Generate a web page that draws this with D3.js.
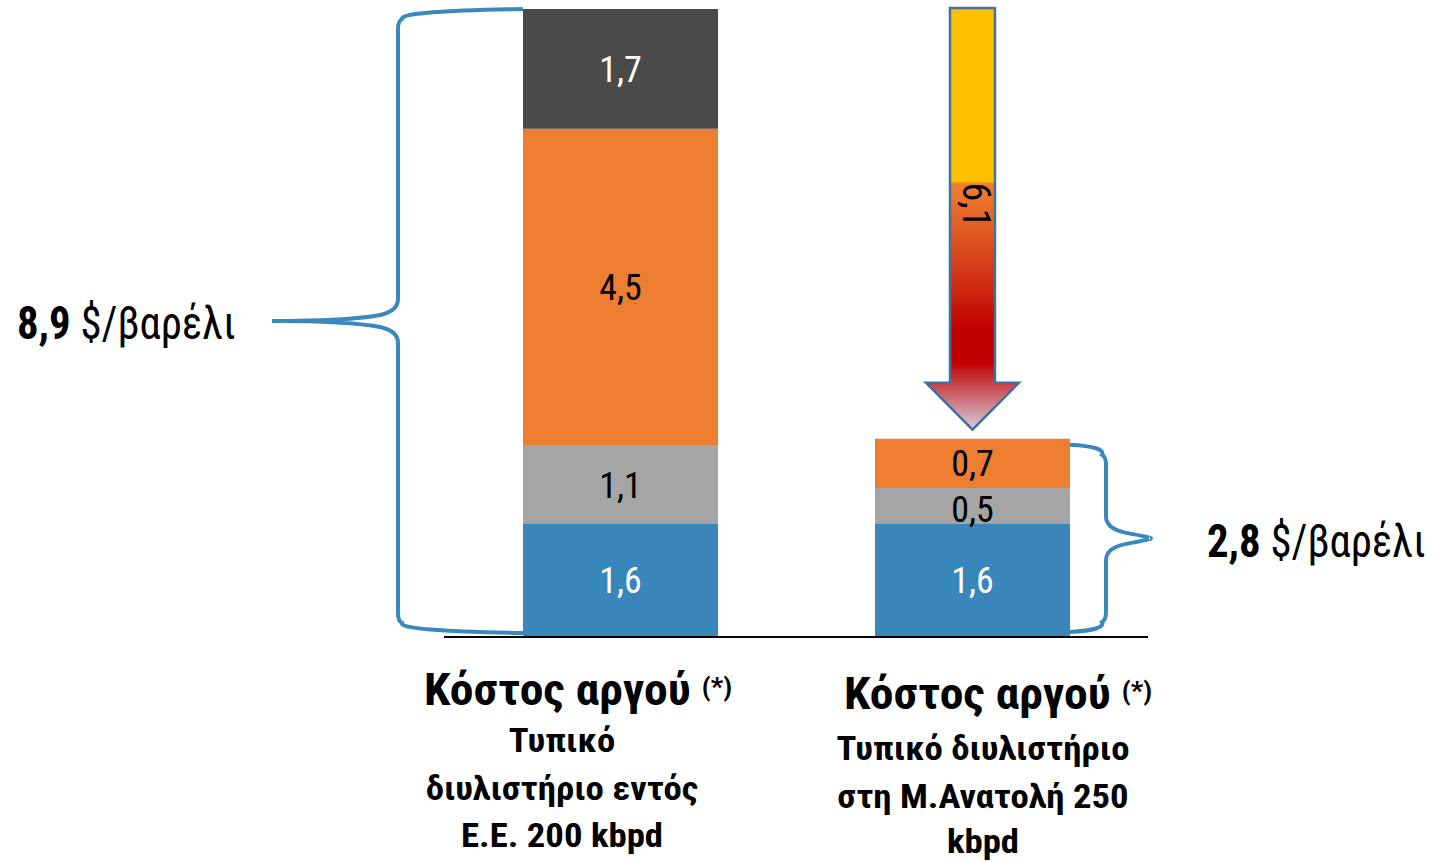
<!DOCTYPE html>
<html><head><meta charset="utf-8">
<script src="https://cdn.jsdelivr.net/npm/d3@7"></script>
<style>
html,body{margin:0;padding:0;background:#fff;}
svg text{font-family:"Roboto Condensed","Roboto",sans-serif;}
</style></head>
<body>
<svg id="chart" width="1435" height="862"></svg>
<script>
// ---- data ----
const categories = ["eu", "me"];
const seriesNames = ["s1", "s2", "s3", "s4"];
const seriesColors = ["#3886BA", "#A5A5A5", "#ED7D31", "#4A4A4A"];
const seriesTextColors = ["#ffffff", "#000000", "#000000", "#ffffff"];
const s1 = [1.6, 1.6];
const s2 = [1.1, 0.5];
const s3 = [4.5, 0.7];
const s4 = [1.7, 0];
const segLabels = [["1,6", "1,6"], ["1,1", "0,5"], ["4,5", "0,7"], ["1,7", ""]];
const totals = [8.9, 2.8];
const totalLabels = ["8,9", "2,8"];
const unitLabel = "$/βαρέλι";
const diffLabel = "6,1";
const titleMain = "Κόστος αργού";
const titleStar = "(*)";
const subLines = [["Τυπικό", "διυλιστήριο εντός", "Ε.Ε. 200 kbpd"],
                  ["Τυπικό διυλιστήριο", "στη Μ.Ανατολή 250", "kbpd"]];

const svg = d3.select("#chart");

const x = d3.scaleBand().domain(categories).range([523, 1070]).paddingInner(0.446).paddingOuter(0);
const y = d3.scaleLinear().domain([0, 8.9]).range([636, 9]);

const rows = categories.map((c, i) => ({cat: c, s1: s1[i], s2: s2[i], s3: s3[i], s4: s4[i]}));
const stack = d3.stack().keys(seriesNames)(rows);

// bars
stack.forEach((layer, li) => {
  const g = svg.append("g");
  g.selectAll("rect").data(layer).join("rect")
    .attr("x", d => x(d.data.cat))
    .attr("y", d => y(d[1]))
    .attr("width", x.bandwidth())
    .attr("height", d => Math.max(0, y(d[0]) - y(d[1])))
    .attr("fill", seriesColors[li]);
  g.selectAll("text").data(layer).join("text")
    .attr("transform", (d) => {
      const cx = x(d.data.cat) + x.bandwidth() / 2;
      let cy = (y(d[0]) + y(d[1])) / 2 + 13;
      if (li === 1 && d.data.cat === "me") cy += 3;
      return `translate(${cx},${cy})`;
    })
    .attr("text-anchor", "middle")
    .attr("font-size", 36)
    .attr("fill", seriesTextColors[li])
    .text((d, i) => segLabels[li][i]);
});

// axis line
svg.append("line").attr("x1", 444).attr("x2", 1148).attr("y1", 637).attr("y2", 637)
  .attr("stroke", "#000").attr("stroke-width", 2);

// braces
const braceColor = "#3A89BE";
function bracePath(xb, xv, xt, y0, y1, dir) {
  const ym = (y0 + y1) / 2;
  const s = dir;
  return [
    `M${xb},${y0}`,
    `Q${xv},${y0 + 2} ${xv - s * 4},${y0 + 10}`,
    `Q${xv},${y0 + 12} ${xv},${y0 + 20}`,
    `L${xv},${ym - 22}`,
    `Q${xv},${ym - 10} ${xv + s * 18},${ym - 6}`,
    `Q${xv + s * 50},${ym} ${xt},${ym}`,
    `Q${xv + s * 50},${ym} ${xv + s * 18},${ym + 6}`,
    `Q${xv},${ym + 10} ${xv},${ym + 22}`,
    `L${xv},${y1 - 20}`,
    `Q${xv},${y1 - 12} ${xv - s * 4},${y1 - 10}`,
    `Q${xv},${y1 - 2} ${xb},${y1}`
  ].join(" ");
}
svg.append("path")
  .attr("d", bracePath(x("eu"), 398, 272, y(totals[0]), y(0) - 3, -1))
  .attr("fill", "none").attr("stroke", braceColor).attr("stroke-width", 4);
svg.append("path")
  .attr("d", bracePath(x("me") + x.bandwidth(), 1106, 1150, y(totals[1]) + 6, y(0) - 4, 1))
  .attr("fill", "none").attr("stroke", braceColor).attr("stroke-width", 4);

// total labels
function totalText(tx, ty, anchor, i) {
  const t = svg.append("text")
    .attr("transform", `translate(${tx},${ty}) scale(0.93,1)`)
    .attr("text-anchor", anchor).attr("font-size", 46).attr("fill", "#000");
  t.append("tspan").attr("font-weight", "bold").text(totalLabels[i]);
  t.append("tspan").text(" " + unitLabel);
}
totalText(17, 339, "start", 0);
totalText(1207, 557, "start", 1);

// arrow
const defs = svg.append("defs");
const ay0 = y(totals[0]) - 1, ayTip = y(totals[1]) - 9;
const grad = defs.append("linearGradient").attr("id", "ag")
  .attr("gradientUnits", "userSpaceOnUse")
  .attr("x1", 0).attr("x2", 0).attr("y1", ay0).attr("y2", ayTip);
[[0, "#FFC000"], [0.41, "#FFC000"], [0.418, "#EE7E30"], [0.58, "#DA4A1E"], [0.76, "#C00000"], [0.84, "#C00000"], [1, "#D8CEE0"]]
  .forEach(([o, c]) => grad.append("stop").attr("offset", o).attr("stop-color", c));
const acx = x("me") + x.bandwidth() / 2;
const shaftW = 45, headW = 93, headBase = ayTip - 47;
svg.append("path")
  .attr("d", `M${acx - shaftW / 2},${ay0} L${acx + shaftW / 2},${ay0} L${acx + shaftW / 2},${headBase} L${acx + headW / 2},${headBase} L${acx},${ayTip} L${acx - headW / 2},${headBase} L${acx - shaftW / 2},${headBase} Z`)
  .attr("fill", "url(#ag)").attr("stroke", "#41719C").attr("stroke-width", 2.5).attr("stroke-linejoin", "miter");
svg.append("text")
  .attr("transform", `translate(${acx - 9},${205}) rotate(90)`)
  .attr("text-anchor", "middle").attr("font-size", 38).attr("fill", "#000")
  .text(diffLabel);

// category labels
const titleCx = [578, 998], subCx = [562, 983], titleBase = [705, 709];
const subBase = [[752, 800, 847], [760, 808, 853]];
categories.forEach((c, i) => {
  const t = svg.append("text")
    .attr("transform", `translate(${titleCx[i]},${titleBase[i]}) scale(1.06,1)`)
    .attr("text-anchor", "middle").attr("font-weight", "bold").attr("fill", "#000");
  t.append("tspan").attr("font-size", 45).text(titleMain + " ");
  t.append("tspan").attr("font-size", 26).attr("dy", -9).text(titleStar);
  subLines[i].forEach((line, j) => {
    svg.append("text")
      .attr("transform", `translate(${subCx[i]},${subBase[i][j]}) scale(1.08,1)`)
      .attr("text-anchor", "middle").attr("font-weight", "bold").attr("font-size", 34)
      .attr("fill", "#000").text(line);
  });
});
</script>
</body></html>
